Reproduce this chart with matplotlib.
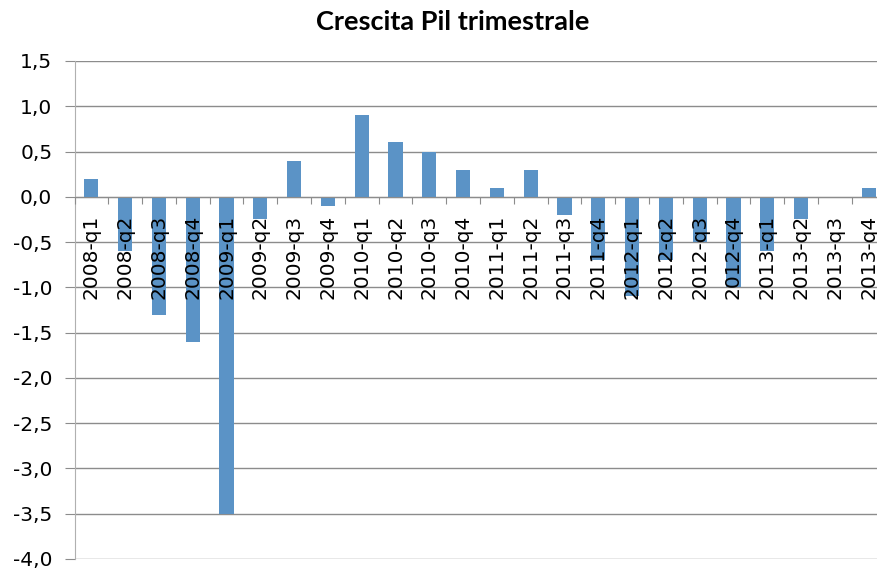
import matplotlib
matplotlib.use("Agg")
import matplotlib.pyplot as plt
import numpy as np

plt.rcParams['font.family'] = ['DejaVu Sans']

trimestri = ['2008-q1', '2008-q2', '2008-q3', '2008-q4',
             '2009-q1', '2009-q2', '2009-q3', '2009-q4',
             '2010-q1', '2010-q2', '2010-q3', '2010-q4',
             '2011-q1', '2011-q2', '2011-q3', '2011-q4',
             '2012-q1', '2012-q2', '2012-q3', '2012-q4',
             '2013-q1', '2013-q2', '2013-q3', '2013-q4']
crescita = [0.2, -0.6, -1.3, -1.6,
            -3.5, -0.25, 0.4, -0.1,
            0.9, 0.6, 0.5, 0.3,
            0.1, 0.3, -0.2, -0.7,
            -1.1, -0.7, -0.5, -1.0,
            -0.6, -0.25, 0.0, 0.1]
y_ticks = [1.5, 1.0, 0.5, 0.0, -0.5, -1.0, -1.5, -2.0, -2.5, -3.0, -3.5, -4.0]

fig = plt.figure(figsize=(8.77, 5.76), dpi=100)
ax = fig.add_axes([74.5 / 877, 1 - 559 / 576, 811 / 877, (559 - 61) / 576])

x = np.arange(len(trimestri))
ax.bar(x, crescita, width=0.42, color='#5b93c6', zorder=1)

ax.set_xlim(-0.5, len(trimestri) - 0.5)
ax.set_ylim(-4.0, 1.5)

# grid under the bars, x labels over them
ax.set_axisbelow(True)
ax.xaxis.set_zorder(4)
ax.spines['bottom'].set_zorder(4)

ax.set_yticks(y_ticks)
ax.set_yticklabels([('%.1f' % v).replace('.', ',') for v in y_ticks])
ax.yaxis.grid(True, color='#8c8c8c', linewidth=1.0)
ax.tick_params(axis='y', length=7, color='#8c8c8c', labelsize=14.5, pad=9)

ax.spines['bottom'].set_position(('data', 0))
ax.spines['bottom'].set_color('#8c8c8c')
ax.spines['left'].set_color('#b0b0b0')
ax.spines['top'].set_visible(False)
ax.spines['right'].set_visible(False)
ax.set_xticks(np.arange(-0.5, len(trimestri), 1.0))
ax.set_xticklabels([])
ax.set_xticks(x, minor=True)
ax.set_xticklabels(trimestri, minor=True, rotation=90, fontsize=14.5)
ax.tick_params(axis='x', which='major', length=5, color='#8c8c8c', direction='out')
ax.tick_params(axis='x', which='minor', length=0, pad=13)

fig.text(0.516, 0.962, 'Crescita Pil trimestrale', ha='center', va='center',
         fontsize=19.5, fontweight='bold', family='Lato')

fig.savefig('out.png', dpi=100)
